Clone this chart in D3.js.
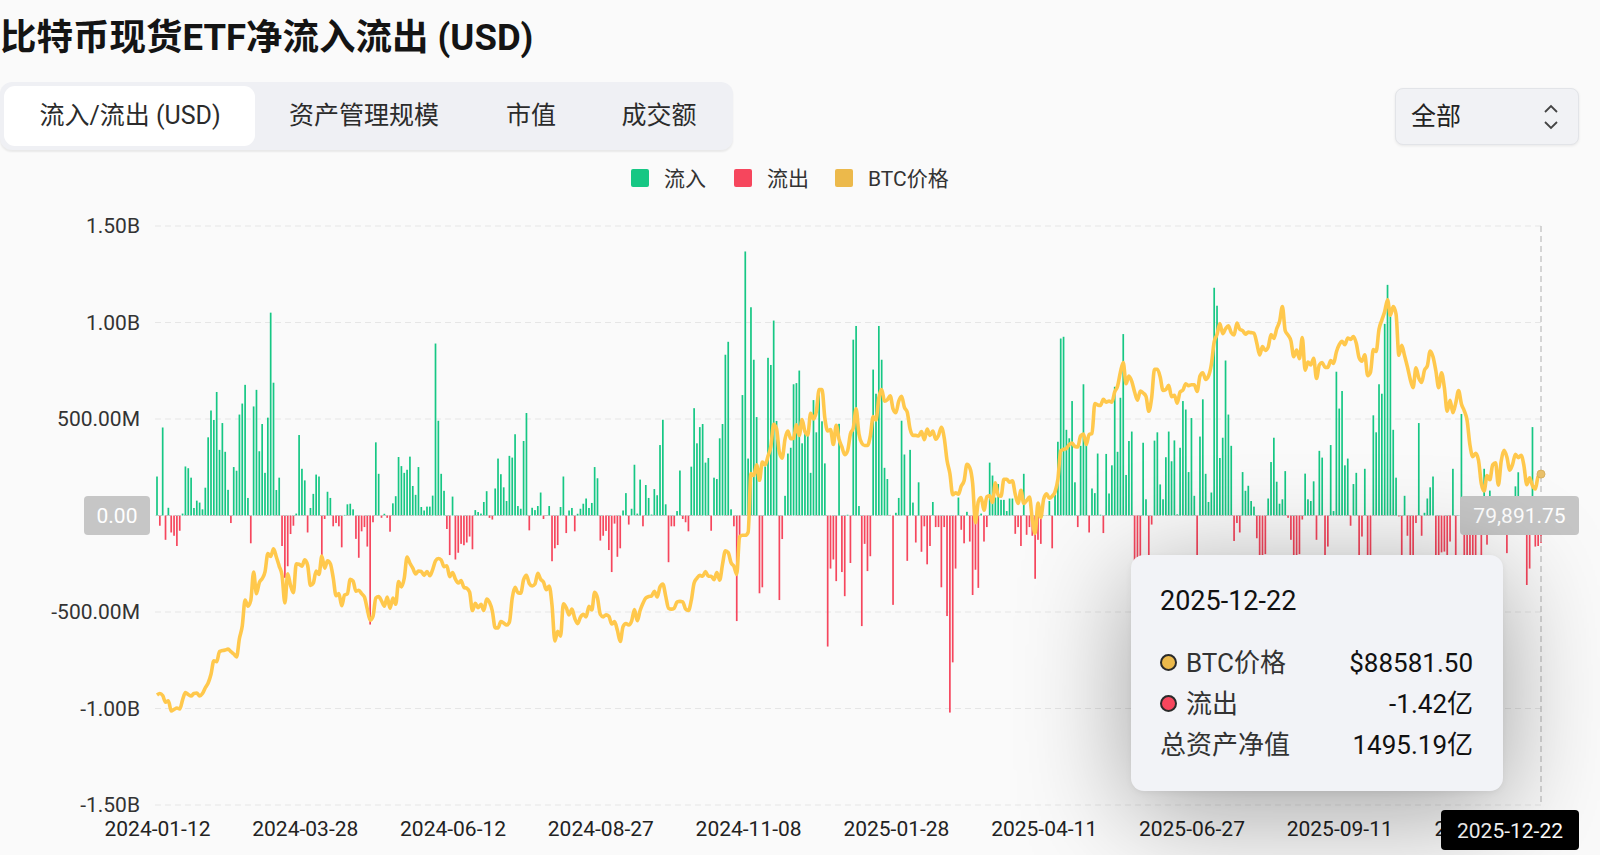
<html>
<head>
  <meta http-equiv='Content-Type' content='text/html;charset=utf-8'>
  <title>比特币现货ETF净流入流出 (USD)</title>
  <script src="https://cdn.jsdelivr.net/npm/d3@7/dist/d3.min.js"></script>
  <style type='text/css'>
    html, body { margin: 0; padding: 0; background: #fafafa; }
    body { font-family: Roboto, 'Noto Sans CJK SC', sans-serif; color: #222; }
    #main { position: relative; width: 1600px; height: 855px; overflow: hidden; }
    svg { position: absolute; left: 0; top: 0; }
    #tabs {
      position: absolute; left: 0; top: 82px; width: 733px; height: 68px;
      background: #eff0f4; border-radius: 12px;
      box-shadow: 0 2px 2px rgba(0,0,0,0.07);
    }
    #tabs .on {
      position: absolute; left: 4px; top: 4px; width: 251px; height: 60px;
      background: #fff; border-radius: 11px;
    }
    #tabs .tab {
      position: absolute; top: 0; height: 68px; line-height: 68px;
      font-size: 25px; color: #2b2b2b; text-align: center; white-space: nowrap;
    }
    #range {
      position: absolute; left: 1395px; top: 88px; width: 182px; height: 55px;
      background: #f1f2f5; border: 1px solid #e2e4e8; border-radius: 8px;
      box-shadow: 0 1px 3px rgba(0,0,0,0.08);
      font-size: 25px; line-height: 55px; color: #222;
    }
    #range span { position: absolute; left: 15px; }
    #range svg { position: absolute; left: 145px; top: 14px; }
    #tip {
      position: absolute; left: 1131px; top: 555px; width: 372px; height: 236px;
      background: #f2f3f7; border-radius: 13px;
      box-shadow: 0 20px 110px rgba(0,0,0,0.36), 0 2px 6px rgba(0,0,0,0.06);
    }
    #tip .date { position: absolute; left: 29px; top: 30px; font-size: 27px; color: #111; }
    #tip .row { position: absolute; left: 29px; width: 313px; height: 34px; font-size: 26px; line-height: 34px; }
    #tip .row .dot {
      position: absolute; left: 0; top: 8px; width: 13px; height: 13px;
      border: 2.5px solid #2a2a2a; border-radius: 50%;
    }
    #tip .row .lab { position: absolute; left: 26px; color: #333; }
    #tip .row .lab.nodot { left: 0; }
    #tip .row .val { position: absolute; right: 0; color: #111; font-weight: 400; }
  </style>
</head>
<body>
<div id="main">
  <div id="tabs">
    <div class="on"></div>
  </div>
  <div id="range"><span>全部</span>
    <svg width="20" height="28"><path d="M4,9 L10,3 L16,9 M4,19 L10,25 L16,19" fill="none" stroke="#444" stroke-width="1.8"/></svg>
  </div>
  <div id="tip"></div>
</div>

<script type='text/javascript'>

// trading days, BTC spot ETF total net flow, millions USD
var flows2024 = [
  202, -53, 456, -126, 40, -88, -105, -158, -79, 10,
  254, 245, 196, 39, 77, 67, 32, 144, 405, 544,
  495, 640, 340, 479, 330, 133, -39, 251, 232, 523,
  580, 677, 91, -144, 565, 651, 333, 474, 221, 507,
  1051, 688, 132, 196, -158, -323, -263, -96, -53, 10,
  417, 242, 182, -88, 39, 112, 212, 202, -205, -18,
  123, 91, -56, -39, -56, -165, 3, 58, 61, 32,
  -121, -219, -82, -60, -161, -565, -35, 379, 216, -12,
  9, -12, -84, 63, 100, 303, 256, 221, 237, 305,
  153, 107, 251, 44, 26, 46, 46, 103, 891, 491,
  216, 128, -70, -205, 98, -228, -193, -147, -154, -140,
  -109, -175, 28, 18, 10, 70, 126, -12, -21, 140,
  295, 214, 146, 75, 309, 300, 421, 49, 35, 386,
  531, -77, 40, 28, 49, 119, -18, 2, 49, -237,
  -170, -153, 44, 202, -91, 26, 39, -82, 9, 35,
  61, 88, 39, 65, 251, 193, -130, -105, -80, -179,
  -293, -42, -214, -170, 26, 116, -47, 35, 263, 10,
  186, -56, 158, 91, 5, 137, 105, 365, 496, 58,
  -242, -56, -56, 23, 233, -18, -35, -82, 253, 556,
  374, 458, 474, 274, 298, -79, 196, 189, 400, 474,
  833, 900, 32, -56, -547, -114, 624, 1368, 295, 1079,
  807, 510, -403, -372, 254, 817, 780, 1010, 490, -438,
  -122, 102, 321, 351, 680, 686, 751, 374, 435, 417,
  221, 598, 431, 654, 488, 270, -679, -275, -228, -340,
  475, -293, -418, 4
];

var flows2025 = [
  -246, 911, 982, 49, -573, -147, -288, -211, 756, 631,
  982, 807, 247, 189, 3, -463, 14, 91, 491, 316,
  -235, 340, 67, -140, 172, -188, -56, -253, -158, 70,
  -60, -60, -372, -60, -521, -1021, -761, -275, 93, -74,
  -144, 19, -135, -412, -281, -375, 10, -135, -60, 274,
  207, 93, 163, 81, 81, 23, 88, 88, -95, -60,
  -158, 216, -100, -60, -105, -328, -126, -147, 2, 1,
  75, -170, 107, 382, 917, 926, 444, 400, 593, 172,
  -60, 361, 680, 391, -88, 140, 116, 321, 4, -91,
  319, 114, 260, 667, 330, 610, 940, 210, 386, 435,
  -358, -616, -267, 377, 84, -278, -47, 388, 431, 161,
  84, 302, 435, 281, 389, 6, 351, 593, 549, 225,
  505, 102, -342, 409, 602, 216, 70, 119, 1180, 1087,
  298, 403, 803, 523, 361, -132, -39, -88, 225, 128,
  154, 75, 46, -118, -812, -323, -200, 88, 277, 403,
  175, 61, 84, 230, -12, -126, -523, -311, -200, -21,
  217, 84, 75, 177, -126, 335, 300, -300, -161, 365,
  23, 745, 554, 645, 260, 295, -53, 163, 221, -363,
  -109, 242, -258, -419, 519, 431, 680, 631, 993, 1195,
  1031, 444, 196, -5, -326, 102, -105, -536, -366, -39,
  479, -105, 14, 88, 146, 202, -470, -488, -191, -187,
  -578, -135, 242, -558, 1, 526, -278, -867, -492, -255,
  -373, 75, -903, 242, -151, 129, 21, 71, -4, 58,
  -14, -195, 54, -60, 151, 224, -78, 50, -360, -275,
  458, -161, -158, -142
];

// BTC close, thousands USD, one row per month
var price2024 = [
  42.8, 43.1, 42.7, 41.3, 41.6, 39.5, 39.8, 40.1, 39.9, 41.8, 43.3, 42.9, 42.6,
  43.1, 43.2, 42.6, 43.1, 44.3, 45.3, 47.1, 49.9, 49.7, 51.8, 52.0, 52.1, 52.3, 51.8, 51.3, 50.7, 54.5, 57.1, 62.5, 61.2,
  62.4, 68.3, 63.8, 66.1, 66.9, 68.3, 72.1, 71.5, 73.1, 71.4, 69.5, 67.6, 61.9, 67.9, 65.5, 64.0, 70.0, 69.9, 69.5, 70.8,
  69.7, 65.5, 66.0, 68.5, 67.8, 71.6, 69.1, 70.6, 70.0, 67.1, 63.4, 63.8, 61.3, 63.5, 63.8, 66.8, 66.4, 64.3, 64.5, 63.8, 63.1, 60.6,
  58.3, 59.1, 62.9, 63.2, 62.3, 61.2, 63.1, 60.8, 62.9, 61.6, 66.3, 65.2, 67.0, 71.4, 70.1, 69.1, 67.9, 68.5, 68.4, 67.6, 68.4, 67.5,
  68.8, 70.6, 71.1, 70.8, 69.4, 69.6, 67.3, 68.2, 66.8, 66.0, 66.5, 65.1, 64.9, 64.1, 60.3, 61.8, 60.9, 61.6, 60.3,
  62.7, 62.0, 60.2, 56.7, 56.7, 58.0, 57.7, 57.3, 57.9, 62.9, 65.1, 64.0, 63.9, 66.7, 67.6, 65.9, 65.4, 65.8, 68.0, 66.8, 66.2, 64.6,
  65.4, 61.4, 54.0, 56.0, 55.0, 61.7, 60.9, 59.4, 60.6, 58.7, 57.6, 58.9, 59.5, 59.0, 61.2, 60.4, 64.1, 62.9, 59.5, 59.0, 59.4, 59.1,
  57.5, 58.0, 56.2, 53.9, 57.0, 57.6, 57.3, 58.1, 60.5, 58.2, 60.3, 61.8, 62.9, 63.2, 63.3, 64.3, 63.1, 65.2, 65.8, 63.3,
  60.8, 60.6, 60.8, 62.1, 62.2, 62.1, 60.6, 60.3, 62.4, 66.0, 67.0, 67.6, 67.4, 68.4, 67.4, 67.4, 66.7, 68.2, 66.6, 69.9, 72.7, 72.3, 70.2,
  69.5, 67.8, 75.6, 75.9, 75.9, 76.5, 88.7, 88.3, 90.5, 87.3, 91.1, 90.5, 92.3, 94.3, 98.9, 98.0, 93.1, 91.9, 95.9, 97.5,
  95.9, 96.0, 98.8, 96.6, 99.9, 97.4, 96.7, 101.2, 100.0, 101.5, 106.1, 106.1, 100.2, 97.5, 97.8, 94.7, 98.7, 95.8, 94.2, 92.6, 93.4
];

var price2025 = [
  96.9, 98.1, 102.1, 96.9, 95.0, 94.5, 94.5, 96.5, 100.5, 99.8, 104.4, 106.1, 103.7, 104.0, 104.8, 102.1, 101.3, 103.7, 104.7, 102.4,
  101.4, 97.9, 96.6, 96.6, 96.5, 97.4, 95.7, 97.9, 96.6, 97.5, 95.8, 96.6, 98.3, 96.1, 91.4, 88.7, 84.3, 84.7, 84.4,
  86.1, 87.2, 90.6, 89.9, 86.7, 78.5, 82.9, 83.7, 81.1, 83.9, 84.1, 82.7, 86.8, 84.2, 84.0, 87.5, 87.5, 86.9, 87.2, 84.4, 82.5,
  85.2, 82.5, 83.1, 83.8, 79.2, 76.3, 82.6, 79.6, 83.4, 84.5, 83.6, 84.0, 84.9, 87.5, 93.4, 93.7, 93.9, 94.7, 95.0, 94.3, 94.2,
  96.5, 96.9, 94.7, 96.8, 97.0, 103.2, 102.9, 102.8, 104.1, 103.5, 103.7, 103.5, 105.6, 106.8, 109.7, 111.7, 107.3, 108.9, 107.8, 105.6, 103.9,
  105.8, 105.4, 104.7, 101.6, 104.4, 110.3, 110.3, 108.7, 105.9, 106.1, 107.0, 104.6, 104.9, 103.3, 105.6, 106.0, 107.3, 106.9, 107.1, 107.1,
  105.7, 108.9, 109.6, 108.2, 108.9, 111.3, 116.0, 117.5, 119.8, 117.7, 118.7, 119.3, 117.9, 117.4, 119.9, 118.6, 118.3, 117.6, 118.0, 117.9, 117.8, 115.7,
  113.3, 115.0, 114.2, 114.9, 117.5, 116.7, 118.7, 120.2, 123.3, 118.3, 117.4, 116.2, 112.9, 114.3, 112.5, 116.9, 110.1, 111.8, 111.2, 112.6, 108.4,
  111.2, 111.7, 110.7, 110.7, 112.1, 111.5, 113.9, 115.4, 116.1, 115.4, 116.8, 116.5, 117.1, 115.7, 112.7, 112.0, 113.3, 109.0, 109.7, 114.4, 114.0,
  118.6, 120.5, 122.3, 124.7, 121.5, 123.3, 121.7, 113.2, 115.3, 113.1, 110.8, 108.2, 106.5, 110.6, 108.5, 107.6, 110.1, 111.0, 114.1, 112.9, 110.0, 106.5, 109.6,
  106.5, 101.6, 103.9, 101.3, 103.3, 105.9, 103.1, 101.7, 99.7, 94.6, 92.2, 92.9, 91.5, 86.6, 85.1, 88.3, 87.4, 90.5, 90.9,
  86.3, 91.3, 93.5, 92.1, 89.4, 90.6, 92.7, 92.0, 92.5, 90.3, 86.4, 87.8, 86.2, 85.5, 88.1, 88.5815
];

var startDate = '2024-01-12',
    endDate = '2025-12-22',
    holidays = ['2024-01-15', '2024-02-19', '2024-03-29', '2024-05-27', '2024-06-19', '2024-07-04',
                '2024-09-02', '2024-11-28', '2024-12-25', '2025-01-01', '2025-01-09', '2025-01-20',
                '2025-02-17', '2025-04-18', '2025-05-26', '2025-06-19', '2025-07-04', '2025-09-01',
                '2025-11-27'];

var tickDates = ['2024-01-12', '2024-03-28', '2024-06-12', '2024-08-27', '2024-11-08',
                 '2025-01-28', '2025-04-11', '2025-06-27', '2025-09-11', '2025-11-24'];
var flowTicks = [1.5e9, 1e9, 5e8, 0, -5e8, -1e9, -1.5e9];

var tabNames = ['流入/流出 (USD)', '资产管理规模', '市值', '成交额'];
var legendItems = [
  { name: '流入', color: '#16c784' },
  { name: '流出', color: '#f6465d' },
  { name: 'BTC价格', color: '#ecb94b' }
];
var pointer = { flow: 0, price: 79891.75 };
var navTotal = 1495.19; // 亿

var m = { left: 157, right: 1541, top: 226, bottom: 805 },
    green = '#16c784', red = '#f6465d', gold = '#ffc84c',
    font = "Roboto, 'Noto Sans CJK SC', sans-serif";

function tradingDays(start, end, skip) {
  var out = [], fmt = d3.utcFormat('%Y-%m-%d'),
      d = new Date(start + 'T00:00:00Z'), e = new Date(end + 'T00:00:00Z');
  for (; d <= e; d.setUTCDate(d.getUTCDate() + 1)) {
    var wd = d.getUTCDay(), s = fmt(d);
    if (wd === 0 || wd === 6 || skip.indexOf(s) >= 0) continue;
    out.push(s);
  }
  return out;
}

function fmtFlow(v) {
  if (v === 0) return '0.00';
  if (Math.abs(v) >= 1e9) return (v / 1e9).toFixed(2) + 'B';
  return (v / 1e6).toFixed(2) + 'M';
}

var dates = tradingDays(startDate, endDate, holidays),
    flows = flows2024.concat(flows2025),
    prices = price2024.concat(price2025);

if (dates.length !== flows.length || dates.length !== prices.length) {
  console.warn('length mismatch', dates.length, flows.length, prices.length);
}

var data = dates.map(function (d, i) {
  return { date: d, flow: flows[i] * 1e6, price: prices[i] * 1000 };
});

var x = d3.scalePoint().domain(dates).range([m.left, m.right]),
    yFlow = d3.scaleLinear().domain([-1.5e9, 1.5e9]).range([m.bottom, m.top]),
    yPrice = d3.scaleLinear().domain([20000, 140000]).range([m.bottom, m.top]);

// tabs
d3.select('#tabs').selectAll('div.tab')
    .data(tabNames)
  .enter().append('div')
    .attr('class', 'tab')
    .style('left', function (d, i) { return [5, 287, 490, 600][i] + 'px'; })
    .style('width', function (d, i) { return [250, 154, 82, 118][i] + 'px'; })
    .text(function (d) { return d; });

var svg = d3.select('#main').insert('svg', '#tabs')
    .attr('width', 1600)
    .attr('height', 855)
    .style('font-family', font);

svg.append('text')
    .attr('x', 0)
    .attr('y', 50)
    .attr('font-size', 36.5)
    .attr('font-weight', 700)
    .attr('fill', '#141414')
    .text('比特币现货ETF净流入流出 (USD)');

// legend
var lg = svg.append('g').attr('transform', 'translate(631,178)');
var lgX = [0, 103, 204];
var item = lg.selectAll('g').data(legendItems).enter().append('g')
    .attr('transform', function (d, i) { return 'translate(' + lgX[i] + ',0)'; });
item.append('rect')
    .attr('x', 0).attr('y', -9).attr('width', 18).attr('height', 18).attr('rx', 2)
    .attr('fill', function (d) { return d.color; });
item.append('text')
    .attr('x', 33).attr('dy', '0.36em')
    .attr('font-size', 21).attr('fill', '#333')
    .text(function (d) { return d.name; });

// grid
svg.append('g').selectAll('line')
    .data(flowTicks)
  .enter().append('line')
    .attr('x1', m.left - 2).attr('x2', m.right + 2)
    .attr('y1', function (d) { return yFlow(d); })
    .attr('y2', function (d) { return yFlow(d); })
    .attr('stroke', '#e6e6e6')
    .attr('stroke-dasharray', '6,4');

var yAxis = svg.append('g')
    .attr('transform', 'translate(' + m.left + ',0)')
    .call(d3.axisLeft(yFlow).tickValues(flowTicks).tickFormat(fmtFlow).tickSize(0).tickPadding(17));
yAxis.select('.domain').remove();
yAxis.selectAll('text').attr('font-size', 21).attr('fill', '#333').style('font-family', font);

// highlighted x label sits over the last regular tick, so that one is clipped at the box edge
var last = data[data.length - 1],
    px = x(last.date),
    boxLeft = px - 100;

svg.append('clipPath').attr('id', 'xclip')
  .append('rect').attr('x', 0).attr('y', 0).attr('width', boxLeft).attr('height', 855);

var xAxis = svg.append('g')
    .attr('transform', 'translate(0,' + m.bottom + ')')
    .attr('clip-path', 'url(#xclip)')
    .call(d3.axisBottom(x).tickValues(tickDates).tickSize(0).tickPadding(16));
xAxis.select('.domain').remove();
xAxis.selectAll('text').attr('font-size', 21).attr('fill', '#222').style('font-family', font);

// bars
var y0 = yFlow(0);
svg.append('g').selectAll('rect')
    .data(data)
  .enter().append('rect')
    .attr('x', function (d) { return x(d.date) - 0.85; })
    .attr('width', 1.7)
    .attr('y', function (d) { return Math.min(yFlow(d.flow), y0); })
    .attr('height', function (d) { return Math.abs(yFlow(d.flow) - y0); })
    .attr('fill', function (d) { return d.flow >= 0 ? green : red; });

// crosshair
var py = yFlow(pointer.flow);

svg.append('line')
    .attr('x1', m.left).attr('x2', m.right)
    .attr('y1', py).attr('y2', py)
    .attr('stroke', '#c4c4c4').attr('stroke-width', 1.2)
    .attr('stroke-dasharray', '5,4');
svg.append('line')
    .attr('x1', px).attr('x2', px)
    .attr('y1', m.top).attr('y2', m.bottom)
    .attr('stroke', '#bdbdbd').attr('stroke-width', 1.2)
    .attr('stroke-dasharray', '6,4');

// price line
var line = d3.line()
    .x(function (d) { return x(d.date); })
    .y(function (d) { return yPrice(d.price); })
    .curve(d3.curveMonotoneX);

svg.append('path')
    .datum(data)
    .attr('d', line)
    .attr('fill', 'none')
    .attr('stroke', gold)
    .attr('stroke-width', 3.6)
    .attr('stroke-linejoin', 'round');

svg.append('circle')
    .attr('cx', px).attr('cy', yPrice(last.price)).attr('r', 4)
    .attr('fill', '#e9c06a').attr('stroke', '#d9b25d');

// pointer labels
function pill(cx0, w, text) {
  var g = svg.append('g');
  g.append('rect')
      .attr('x', cx0).attr('y', py - 19.5).attr('width', w).attr('height', 39).attr('rx', 4)
      .attr('fill', '#c6c6c6');
  g.append('text')
      .attr('x', cx0 + w / 2).attr('y', py).attr('dy', '0.36em')
      .attr('text-anchor', 'middle').attr('font-size', 21).attr('fill', '#fff')
      .text(text);
}
pill(84, 66, fmtFlow(pointer.flow));
pill(1460, 119, d3.format(',.2f')(pointer.price));

var xb = svg.append('g');
xb.append('rect')
    .attr('x', boxLeft).attr('y', 810).attr('width', 138).attr('height', 40).attr('rx', 4)
    .attr('fill', '#000');
xb.append('text')
    .attr('x', boxLeft + 69).attr('y', 830).attr('dy', '0.36em')
    .attr('text-anchor', 'middle').attr('font-size', 21).attr('fill', '#fff')
    .text(last.date);

// tooltip
var tip = d3.select('#tip');
tip.append('div').attr('class', 'date').text(last.date);

var rows = [
  { dot: '#ecb94b', label: 'BTC价格', value: '$' + d3.format('.2f')(last.price), top: 91 },
  { dot: last.flow >= 0 ? green : red, label: last.flow >= 0 ? '流入' : '流出',
    value: (last.flow / 1e8).toFixed(2) + '亿', top: 132 },
  { dot: null, label: '总资产净值', value: navTotal.toFixed(2) + '亿', top: 173 }
];

var row = tip.selectAll('div.row').data(rows).enter().append('div')
    .attr('class', 'row')
    .style('top', function (d) { return d.top + 'px'; });
row.filter(function (d) { return d.dot; }).append('span')
    .attr('class', 'dot')
    .style('background', function (d) { return d.dot; });
row.append('span')
    .attr('class', function (d) { return d.dot ? 'lab' : 'lab nodot'; })
    .text(function (d) { return d.label; });
row.append('span')
    .attr('class', 'val')
    .text(function (d) { return d.value; });

</script>
</body>
</html>
